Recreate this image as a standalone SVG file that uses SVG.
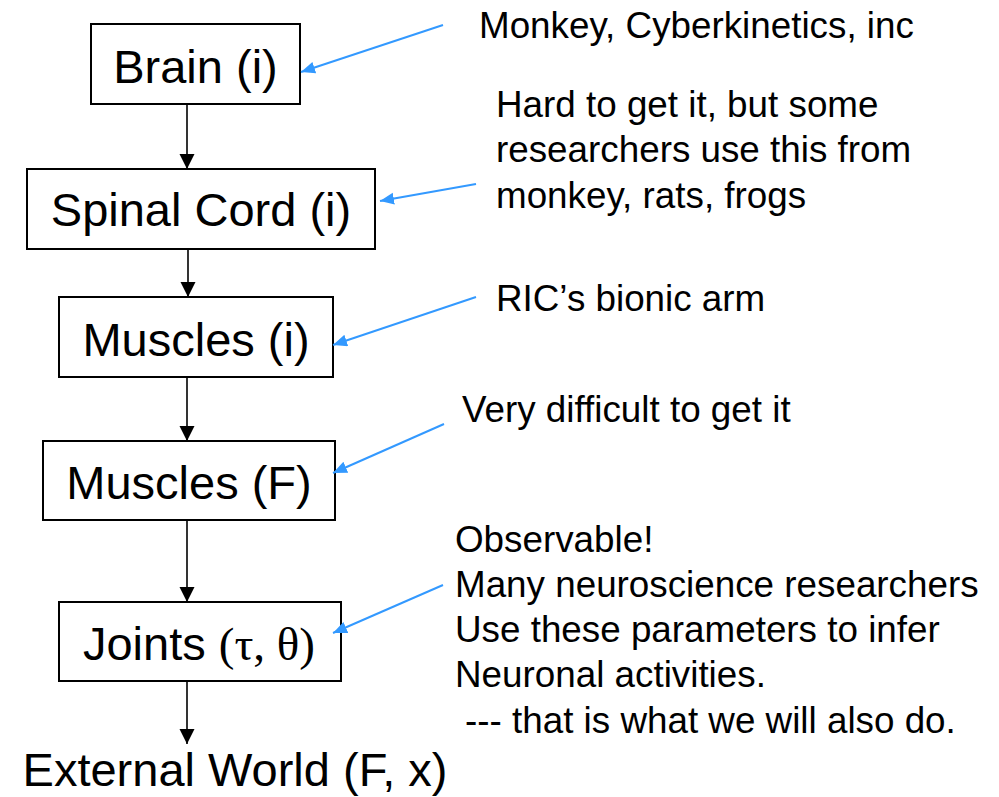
<svg xmlns="http://www.w3.org/2000/svg" width="999" height="797" viewBox="0 0 999 797">
<style>
.box{fill:#fff;stroke:#000;stroke-width:2}
.lbl{font-family:"Liberation Sans",Arial,sans-serif;font-size:47px;fill:#000;text-anchor:middle}
.note{font-family:"Liberation Sans",Arial,sans-serif;font-size:36.8px;fill:#000}
.flow{stroke:#000;stroke-width:1.6;fill:none}
.ann{stroke:#3399ff;stroke-width:2;fill:none}
</style>
<defs>
<marker id="ab" markerWidth="16" markerHeight="16" refX="15" refY="7.5" orient="auto" markerUnits="userSpaceOnUse">
<path d="M0,0 L15,7.5 L0,15 Z" fill="#000"/>
</marker>
<marker id="abl" markerWidth="16" markerHeight="14" refX="14" refY="6" orient="auto" markerUnits="userSpaceOnUse">
<path d="M0,0 L14,6 L0,12 Z" fill="#3399ff"/>
</marker>
</defs>
<rect width="999" height="797" fill="#fff"/>
<g id="brain"><rect class="box" x="91" y="24" width="209" height="80"/><text class="lbl" x="195.5" y="83">Brain (i)</text></g>
<g id="spinal"><rect class="box" x="27" y="169" width="348" height="80"/><text class="lbl" x="201" y="226">Spinal Cord (i)</text></g>
<g id="muscles-i"><rect class="box" x="59" y="297" width="274" height="80"/><text class="lbl" x="196" y="356">Muscles (i)</text></g>
<g id="muscles-f"><rect class="box" x="43" y="441" width="292" height="79"/><text class="lbl" x="189" y="499">Muscles (F)</text></g>
<g id="joints"><rect class="box" x="59" y="602" width="282" height="79"/><text class="lbl" x="199" y="660">Joints <tspan font-family="'Liberation Serif','Times New Roman',serif">(τ, θ)</tspan></text></g>
<g id="external"><text class="lbl" x="235" y="786">External World (F, x)</text></g>
<g id="notes">
<text class="note" x="479" y="38">Monkey, Cyberkinetics, inc</text>
<text class="note" x="496" y="117">Hard to get it, but some</text>
<text class="note" x="496" y="162">researchers use this from</text>
<text class="note" x="496" y="208">monkey, rats, frogs</text>
<text class="note" x="496" y="311">RIC’s bionic arm</text>
<text class="note" x="462" y="422">Very difficult to get it</text>
<text class="note" x="455" y="552">Observable!</text>
<text class="note" x="455" y="597">Many neuroscience researchers</text>
<text class="note" x="455" y="642">Use these parameters to infer</text>
<text class="note" x="455" y="687">Neuronal activities.</text>
<text class="note" x="465" y="733">--- that is what we will also do.</text>
</g>
<g id="connectors">
<line class="flow" x1="187" y1="104" x2="187" y2="169" marker-end="url(#ab)"/>
<line class="flow" x1="188" y1="249" x2="188" y2="297" marker-end="url(#ab)"/>
<line class="flow" x1="187" y1="377" x2="187" y2="441" marker-end="url(#ab)"/>
<line class="flow" x1="187" y1="520" x2="187" y2="602" marker-end="url(#ab)"/>
<line class="flow" x1="187" y1="681" x2="187" y2="744" marker-end="url(#ab)"/>
<line class="ann" x1="443" y1="25" x2="301" y2="72" marker-end="url(#abl)"/>
<line class="ann" x1="476" y1="184" x2="380" y2="201" marker-end="url(#abl)"/>
<line class="ann" x1="476" y1="297" x2="333" y2="345" marker-end="url(#abl)"/>
<line class="ann" x1="444" y1="424" x2="333" y2="473" marker-end="url(#abl)"/>
<line class="ann" x1="443" y1="585" x2="333" y2="633" marker-end="url(#abl)"/>
</g>
</svg>
